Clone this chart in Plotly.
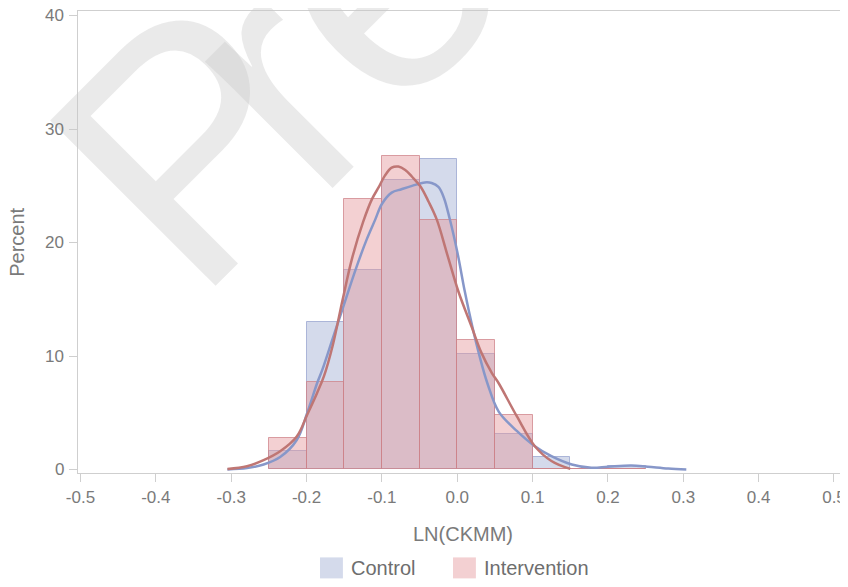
import plotly.graph_objects as go

# ---------------- data ----------------
bin_left = [-0.25, -0.20, -0.15, -0.10, -0.05, 0.00, 0.05, 0.10, 0.15, 0.20]
bin_width = 0.05
control_pct = [1.6, 13.0, 17.6, 25.5, 27.4, 10.2, 3.1, 1.1, 0.0, 0.3]
intervention_pct = [2.8, 7.7, 23.8, 27.6, 22.0, 11.4, 4.8, 0.0, 0.0, 0.0]

control_kde_x = [-0.305, -0.279, -0.257, -0.235, -0.213, -0.199, -0.186, -0.179, -0.165, -0.150,
                 -0.135, -0.120, -0.109, -0.100, -0.087, -0.074, -0.060, -0.043, -0.034, -0.025,
                 -0.018, -0.010, 0.000, 0.010, 0.020, 0.030, 0.040, 0.055, 0.079,
                 0.103, 0.125, 0.152, 0.178, 0.200, 0.231, 0.253, 0.280, 0.304]
control_kde_y = [0.0, 0.12, 0.44, 1.1, 2.6, 5.0, 7.6, 8.8, 11.6, 14.6,
                 17.6, 20.3, 22.0, 23.4, 24.4, 24.7, 25.0, 25.3, 25.25, 24.9,
                 24.0, 22.1, 19.2, 15.7, 12.6, 9.9, 7.6, 5.1, 3.4,
                 2.05, 1.17, 0.44, 0.15, 0.24, 0.35, 0.24, 0.08, 0.0]

intervention_kde_x = [-0.305, -0.279, -0.257, -0.235, -0.213, -0.199, -0.186, -0.177, -0.165, -0.152,
                      -0.140, -0.125, -0.113, -0.104, -0.096, -0.087, -0.078, -0.069, -0.060, -0.049,
                      -0.038, -0.027, -0.013, 0.002, 0.019, 0.032, 0.046, 0.055, 0.079, 0.103,
                      0.125, 0.150]
intervention_kde_y = [0.05, 0.29, 0.82, 1.6, 2.9, 4.85, 6.75, 8.2, 11.0, 15.0,
                      18.5, 21.8, 23.85, 24.9, 25.9, 26.6, 26.7, 26.4, 25.8, 24.96,
                      23.6, 22.0, 18.9, 15.6, 12.6, 10.3, 8.5, 7.6, 4.7, 2.05,
                      0.75, 0.05]

x_tick_vals = [-0.5, -0.4, -0.3, -0.2, -0.1, 0.0, 0.1, 0.2, 0.3, 0.4, 0.5]
x_tick_text = ["-0.5", "-0.4", "-0.3", "-0.2", "-0.1", "0.0", "0.1", "0.2", "0.3", "0.4", "0.5"]
y_tick_vals = [0, 10, 20, 30, 40]
y_tick_text = ["0", "10", "20", "30", "40"]
series_names = ["Control", "Intervention"]
x_title = "LN(CKMM)"
y_title = "Percent"
watermark_letters = ["P", "r", "e"]

# ---------------- styles ----------------
BLUE_FILL = "rgba(160,172,210,0.45)"
BLUE_EDGE = "rgba(150,162,205,0.75)"
PINK_FILL = "rgba(228,150,155,0.45)"
PINK_EDGE = "rgba(205,130,135,0.75)"
BLUE_LINE = "#8797c9"
RED_LINE = "#bf7674"
TXT = "#7a7a7a"
FONT = "Liberation Sans, Arial, sans-serif"

centers = [b + bin_width / 2 for b in bin_left]

fig = go.Figure()
fig.add_trace(go.Bar(x=centers, y=control_pct, width=bin_width, name=series_names[0],
                     marker=dict(color=BLUE_FILL, line=dict(color=BLUE_EDGE, width=1)),
                     showlegend=False))
fig.add_trace(go.Bar(x=centers, y=intervention_pct, width=bin_width, name=series_names[1],
                     marker=dict(color=PINK_FILL, line=dict(color=PINK_EDGE, width=1)),
                     showlegend=False))
fig.add_trace(go.Scatter(x=control_kde_x, y=control_kde_y, mode="lines",
                         line=dict(color=BLUE_LINE, width=2.5, shape="spline", smoothing=1.0),
                         showlegend=False, hoverinfo="skip"))
fig.add_trace(go.Scatter(x=intervention_kde_x, y=intervention_kde_y, mode="lines",
                         line=dict(color=RED_LINE, width=2.5, shape="spline", smoothing=1.0),
                         showlegend=False, hoverinfo="skip"))

# watermark (one rotated letter each) -- added first so other texts sit above it
wm_pos = [(0.150, 0.717), (0.2553, 0.848), (0.388, 1.077)]
for letter, (wx, wy) in zip(watermark_letters, wm_pos):
    fig.add_annotation(xref="paper", yref="paper", x=wx, y=wy, text=letter,
                       showarrow=False, textangle=-45, xanchor="center", yanchor="middle",
                       font=dict(family=FONT, size=340, color="rgba(200,200,200,0.38)"))

# y tick labels drawn as annotations at the axis values
for v, t in zip(y_tick_vals, y_tick_text):
    fig.add_annotation(xref="paper", yref="y", x=-0.0157, y=v, text=t,
                       showarrow=False, xanchor="right", yanchor="middle",
                       font=dict(family=FONT, size=17, color=TXT))

# manual legend (large square swatches)
legend_items = [(0.3172, BLUE_FILL, 0.3552), (0.4915, PINK_FILL, 0.5295)]
for (sx, col, tx), name in zip(legend_items, series_names):
    fig.add_shape(type="rect", xref="paper", yref="paper", x0=sx, x1=sx + 0.030,
                  y0=-0.2281, y1=-0.1827, fillcolor=col, line=dict(width=0))
    fig.add_annotation(xref="paper", yref="paper", x=tx, y=-0.2054, text=name,
                       showarrow=False, xanchor="left", yanchor="middle",
                       font=dict(family=FONT, size=20, color="#6e6e6e"))

# axis titles
fig.add_annotation(xref="paper", yref="paper", x=-0.0799, y=0.4984, text=y_title,
                   showarrow=False, textangle=-90, xanchor="center", yanchor="middle",
                   font=dict(family=FONT, size=20, color=TXT))
fig.add_annotation(xref="paper", yref="paper", x=0.5046, y=-0.1326, text=x_title,
                   showarrow=False, xanchor="center", yanchor="middle",
                   font=dict(family=FONT, size=20, color=TXT))

# the page body adds an 8px offset; the figure is sized to fit inside the window
fig.update_layout(
    width=840, height=571,
    margin=dict(l=70, r=7, t=3, b=105.5, autoexpand=False),
    paper_bgcolor="white", plot_bgcolor="white",
    barmode="overlay", bargap=0,
    font=dict(family=FONT, color=TXT),
    xaxis=dict(range=[-0.5033, 0.5093], tickvals=x_tick_vals, ticktext=x_tick_text,
               showgrid=False, zeroline=False, showline=True, mirror=True,
               linecolor="#cfcfcf", linewidth=1.2, ticks="outside", ticklen=8,
               tickcolor="#cfcfcf", tickfont=dict(size=17, color=TXT),
               ticklabeloverflow="allow"),
    yaxis=dict(range=[-0.31, 40.41], tickvals=y_tick_vals, showticklabels=False,
               showgrid=False, zeroline=False, showline=True, mirror=True,
               linecolor="#cfcfcf", linewidth=1.2, ticks="outside", ticklen=8,
               tickcolor="#cfcfcf"),
)

fig.write_html("out.html")
